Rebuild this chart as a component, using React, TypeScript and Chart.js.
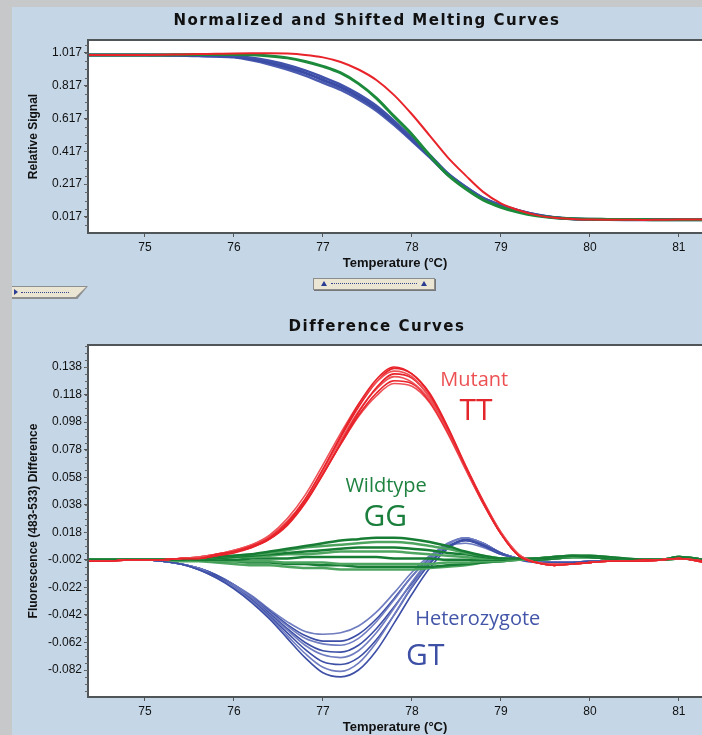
import React, { useEffect, useRef } from "react";
import { Chart, registerables } from "chart.js";
Chart.register(...registerables);

// ---------- shared x grid (°C) ----------
const temps = [
  74.3, 74.6, 74.8, 75.0, 75.2, 75.4, 75.6, 75.8, 76.0, 76.2, 76.4, 76.6,
  76.8, 77.0, 77.2, 77.4, 77.6, 77.8, 78.0, 78.2, 78.4, 78.6, 78.8, 79.0,
  79.2, 79.4, 79.6, 79.8, 80.0, 80.2, 80.4, 80.6, 80.8, 81.0, 81.3,
];
const xTickValues = [75, 76, 77, 78, 79, 80, 81];
const meltTickValues = [0.017, 0.217, 0.417, 0.617, 0.817, 1.017];
const diffTickValues = [
  -0.082, -0.062, -0.042, -0.022, -0.002, 0.018, 0.038, 0.058, 0.078, 0.098, 0.118, 0.138,
];

// ---------- Normalized and Shifted Melting Curves ----------
const meltRed = [
  1.005, 1.005, 1.005, 1.005, 1.006, 1.008, 1.010, 1.012, 1.014, 1.015,
  1.015, 1.013, 1.005, 0.990, 0.962, 0.916, 0.852, 0.760, 0.643, 0.513,
  0.382, 0.272, 0.170, 0.100, 0.058, 0.028, 0.012, 0.005, 0.001, 0.000,
  0.000, -0.001, 0.000, 0.001, 0.001,
];
const meltGreen = [
  1.005, 1.005, 1.005, 1.005, 1.005, 1.006, 1.007, 1.008, 1.008, 1.006,
  0.999, 0.987, 0.965, 0.935, 0.895, 0.830, 0.742, 0.630, 0.520, 0.392,
  0.275, 0.190, 0.121, 0.076, 0.045, 0.024, 0.012, 0.006, 0.003, 0.002,
  0.001, 0.001, 0.000, 0.000, 0.000,
];
const meltBlueUpper = [
  1.005, 1.005, 1.005, 1.005, 1.005, 1.004, 1.003, 1.002, 0.999, 0.988,
  0.969, 0.944, 0.911, 0.869, 0.824, 0.766, 0.695, 0.603, 0.500, 0.396,
  0.285, 0.203, 0.133, 0.089, 0.056, 0.031, 0.014, 0.006, 0.003, 0.001,
  0.000, 0.000, 0.000, 0.000, 0.000,
];
const meltBlueMid = [
  1.005, 1.005, 1.005, 1.005, 1.004, 1.003, 1.001, 0.999, 0.995, 0.980,
  0.958, 0.930, 0.895, 0.852, 0.808, 0.750, 0.680, 0.590, 0.490, 0.388,
  0.280, 0.200, 0.131, 0.088, 0.055, 0.030, 0.014, 0.006, 0.003, 0.001,
  0.000, 0.000, 0.000, 0.000, 0.000,
];
const meltBlueLower = [
  1.005, 1.005, 1.005, 1.004, 1.003, 1.001, 0.998, 0.995, 0.990, 0.972,
  0.947, 0.916, 0.879, 0.835, 0.792, 0.734, 0.665, 0.577, 0.480, 0.380,
  0.275, 0.197, 0.129, 0.087, 0.054, 0.029, 0.013, 0.005, 0.002, 0.001,
  0.000, 0.000, 0.000, 0.000, 0.000,
];

// ---------- Difference Curves : Mutant TT (red) ----------
const diffRed1 = [
  -0.003, -0.003, -0.002, -0.002, -0.002, -0.001, -0.001, 0.002, 0.004, 0.008,
  0.014, 0.025, 0.042, 0.064, 0.088, 0.111, 0.129, 0.138, 0.133, 0.118,
  0.094, 0.066, 0.040, 0.017, 0.001, -0.004, -0.006, -0.005, -0.004, -0.003,
  -0.003, -0.003, -0.002, -0.001, -0.004,
];
const diffRed2 = [
  -0.003, -0.003, -0.002, -0.002, -0.002, -0.001, 0.000, 0.002, 0.005, 0.009,
  0.016, 0.028, 0.045, 0.067, 0.090, 0.111, 0.127, 0.135, 0.131, 0.116,
  0.093, 0.066, 0.040, 0.018, 0.002, -0.004, -0.006, -0.005, -0.004, -0.003,
  -0.003, -0.003, -0.002, -0.001, -0.004,
];
const diffRed3 = [
  -0.003, -0.003, -0.002, -0.002, -0.002, -0.001, -0.001, 0.001, 0.003, 0.007,
  0.013, 0.023, 0.039, 0.060, 0.083, 0.105, 0.123, 0.133, 0.130, 0.116,
  0.093, 0.066, 0.040, 0.017, 0.001, -0.004, -0.006, -0.005, -0.004, -0.003,
  -0.003, -0.002, -0.002, -0.001, -0.003,
];
const diffRed4 = [
  -0.003, -0.003, -0.002, -0.002, -0.002, -0.001, 0.000, 0.002, 0.004, 0.008,
  0.015, 0.026, 0.042, 0.063, 0.085, 0.106, 0.122, 0.131, 0.127, 0.114,
  0.092, 0.065, 0.040, 0.017, 0.001, -0.004, -0.005, -0.005, -0.004, -0.003,
  -0.003, -0.003, -0.002, -0.001, -0.003,
];
const diffRed5 = [
  -0.003, -0.003, -0.002, -0.002, -0.002, -0.001, -0.001, 0.001, 0.004, 0.008,
  0.014, 0.024, 0.040, 0.060, 0.082, 0.103, 0.119, 0.128, 0.126, 0.113,
  0.091, 0.065, 0.039, 0.017, 0.001, -0.004, -0.006, -0.005, -0.004, -0.003,
  -0.003, -0.003, -0.002, -0.001, -0.004,
];
const diffRed6 = [
  -0.003, -0.003, -0.002, -0.002, -0.002, -0.001, 0.000, 0.002, 0.005, 0.009,
  0.015, 0.026, 0.041, 0.061, 0.082, 0.102, 0.117, 0.126, 0.124, 0.112,
  0.090, 0.064, 0.039, 0.017, 0.001, -0.004, -0.005, -0.005, -0.004, -0.003,
  -0.003, -0.003, -0.002, -0.001, -0.003,
];
const diffRed7 = [
  -0.003, -0.003, -0.002, -0.002, -0.002, -0.001, -0.001, 0.001, 0.004, 0.007,
  0.013, 0.024, 0.041, 0.063, 0.087, 0.109, 0.127, 0.137, 0.133, 0.119,
  0.095, 0.067, 0.041, 0.018, 0.002, -0.004, -0.006, -0.005, -0.004, -0.003,
  -0.003, -0.003, -0.002, -0.001, -0.004,
];

// ---------- Difference Curves : Wildtype GG (green) ----------
const diffGreen1 = [
  -0.002, -0.002, -0.002, -0.002, -0.002, -0.002, -0.001, 0.000, 0.001, 0.002,
  0.004, 0.006, 0.008, 0.010, 0.012, 0.013, 0.014, 0.014, 0.013, 0.011,
  0.008, 0.004, 0.001, -0.001, -0.001, -0.001, 0.000, 0.001, 0.001, 0.000,
  -0.001, -0.002, -0.002, 0.000, -0.002,
];
const diffGreen2 = [
  -0.002, -0.002, -0.002, -0.002, -0.002, -0.002, -0.001, 0.000, 0.001, 0.002,
  0.003, 0.005, 0.007, 0.008, 0.009, 0.010, 0.011, 0.011, 0.010, 0.008,
  0.006, 0.003, 0.001, -0.001, -0.002, -0.001, 0.000, 0.001, 0.001, 0.000,
  -0.001, -0.002, -0.002, 0.000, -0.002,
];
const diffGreen3 = [
  -0.002, -0.002, -0.002, -0.002, -0.002, -0.002, -0.002, -0.001, 0.000, 0.001,
  0.002, 0.003, 0.004, 0.005, 0.006, 0.007, 0.007, 0.007, 0.006, 0.005,
  0.003, 0.002, 0.000, -0.001, -0.002, -0.001, 0.000, 0.001, 0.000, -0.001,
  -0.002, -0.002, -0.002, 0.000, -0.002,
];
const diffGreen4 = [
  -0.002, -0.002, -0.002, -0.002, -0.002, -0.002, -0.001, -0.001, 0.000, 0.000,
  0.001, 0.002, 0.002, 0.003, 0.004, 0.004, 0.004, 0.004, 0.003, 0.002,
  0.001, 0.000, -0.001, -0.001, -0.002, -0.001, 0.000, 0.000, 0.000, -0.001,
  -0.002, -0.002, -0.002, 0.000, -0.002,
];
const diffGreen5 = [
  -0.002, -0.002, -0.002, -0.002, -0.002, -0.002, -0.002, -0.002, -0.002, -0.001,
  -0.001, -0.001, 0.000, 0.000, 0.000, 0.000, 0.000, -0.001, -0.001, -0.001,
  -0.002, -0.002, -0.002, -0.002, -0.002, -0.002, -0.001, 0.000, 0.000, -0.001,
  -0.002, -0.002, -0.002, 0.000, -0.002,
];
const diffGreen6 = [
  -0.002, -0.002, -0.002, -0.002, -0.002, -0.002, -0.002, -0.003, -0.003, -0.003,
  -0.003, -0.004, -0.004, -0.004, -0.005, -0.005, -0.005, -0.005, -0.005, -0.005,
  -0.004, -0.004, -0.003, -0.003, -0.002, -0.002, -0.001, 0.000, 0.000, -0.001,
  -0.002, -0.002, -0.002, -0.001, -0.002,
];
const diffGreen7 = [
  -0.002, -0.002, -0.002, -0.002, -0.002, -0.002, -0.002, -0.003, -0.003, -0.004,
  -0.004, -0.005, -0.005, -0.006, -0.006, -0.007, -0.007, -0.007, -0.007, -0.007,
  -0.006, -0.005, -0.004, -0.003, -0.002, -0.002, -0.001, 0.000, 0.000, -0.001,
  -0.002, -0.002, -0.002, -0.001, -0.002,
];
const diffGreen8 = [
  -0.002, -0.002, -0.002, -0.002, -0.002, -0.003, -0.003, -0.004, -0.005, -0.006,
  -0.006, -0.007, -0.008, -0.008, -0.009, -0.009, -0.009, -0.009, -0.009, -0.008,
  -0.007, -0.006, -0.004, -0.003, -0.002, -0.002, -0.001, 0.000, 0.000, -0.001,
  -0.002, -0.002, -0.002, -0.001, -0.002,
];

// ---------- Difference Curves : Heterozygote GT (blue) ----------
const diffBlue1 = [
  -0.002, -0.002, -0.002, -0.002, -0.003, -0.005, -0.009, -0.015, -0.023, -0.033,
  -0.045, -0.059, -0.073, -0.084, -0.087, -0.082, -0.068, -0.048, -0.027, -0.008,
  0.006, 0.012, 0.009, 0.003, -0.002, -0.004, -0.004, -0.004, -0.003, -0.003,
  -0.002, -0.002, -0.002, -0.001, -0.003,
];
const diffBlue2 = [
  -0.002, -0.002, -0.002, -0.002, -0.003, -0.005, -0.009, -0.015, -0.022, -0.032,
  -0.044, -0.057, -0.070, -0.080, -0.083, -0.077, -0.062, -0.042, -0.021, -0.003,
  0.009, 0.014, 0.010, 0.003, -0.001, -0.003, -0.004, -0.004, -0.003, -0.003,
  -0.002, -0.002, -0.002, -0.001, -0.003,
];
const diffBlue3 = [
  -0.002, -0.002, -0.002, -0.002, -0.003, -0.005, -0.009, -0.014, -0.022, -0.031,
  -0.043, -0.055, -0.067, -0.076, -0.078, -0.073, -0.060, -0.042, -0.022, -0.005,
  0.007, 0.013, 0.010, 0.003, -0.001, -0.003, -0.004, -0.004, -0.003, -0.003,
  -0.002, -0.002, -0.002, -0.001, -0.003,
];
const diffBlue4 = [
  -0.002, -0.002, -0.002, -0.002, -0.003, -0.005, -0.008, -0.014, -0.021, -0.030,
  -0.042, -0.053, -0.064, -0.071, -0.073, -0.068, -0.055, -0.037, -0.018, -0.002,
  0.009, 0.014, 0.010, 0.003, -0.001, -0.003, -0.004, -0.004, -0.003, -0.003,
  -0.002, -0.002, -0.002, -0.001, -0.003,
];
const diffBlue5 = [
  -0.002, -0.002, -0.002, -0.002, -0.003, -0.005, -0.008, -0.013, -0.021, -0.030,
  -0.041, -0.052, -0.062, -0.068, -0.069, -0.064, -0.052, -0.036, -0.019, -0.004,
  0.007, 0.012, 0.009, 0.003, -0.001, -0.003, -0.004, -0.004, -0.003, -0.003,
  -0.002, -0.002, -0.002, -0.001, -0.003,
];
const diffBlue6 = [
  -0.002, -0.002, -0.002, -0.002, -0.003, -0.005, -0.008, -0.013, -0.020, -0.029,
  -0.040, -0.050, -0.059, -0.063, -0.064, -0.059, -0.047, -0.031, -0.014, 0.000,
  0.010, 0.014, 0.010, 0.003, -0.001, -0.003, -0.004, -0.004, -0.003, -0.003,
  -0.002, -0.002, -0.002, -0.001, -0.003,
];
const diffBlue7 = [
  -0.002, -0.002, -0.002, -0.002, -0.003, -0.005, -0.008, -0.013, -0.020, -0.029,
  -0.039, -0.049, -0.057, -0.061, -0.061, -0.056, -0.045, -0.030, -0.014, -0.001,
  0.008, 0.012, 0.008, 0.002, -0.001, -0.003, -0.004, -0.004, -0.003, -0.003,
  -0.002, -0.002, -0.002, -0.001, -0.003,
];
const diffBlue8 = [
  -0.002, -0.002, -0.002, -0.002, -0.003, -0.005, -0.008, -0.013, -0.020, -0.028,
  -0.038, -0.047, -0.054, -0.056, -0.055, -0.050, -0.040, -0.026, -0.011, 0.001,
  0.008, 0.010, 0.007, 0.002, -0.001, -0.003, -0.004, -0.004, -0.003, -0.003,
  -0.002, -0.002, -0.002, -0.001, -0.003,
];

const diffRedSeries = [diffRed1, diffRed2, diffRed3, diffRed4, diffRed5, diffRed6, diffRed7];
const diffGreenSeries = [diffGreen1, diffGreen2, diffGreen3, diffGreen4, diffGreen5, diffGreen6, diffGreen7, diffGreen8];
const diffBlueSeries = [diffBlue1, diffBlue2, diffBlue3, diffBlue4, diffBlue5, diffBlue6, diffBlue7, diffBlue8];

// genotype labels drawn inside the difference plot (data coordinates)
const genotypeLabels = [
  { text: "Mutant", t: 78.70, v: 0.1285, size: 20, color: "#ec5052" },
  { text: "TT", t: 78.72, v: 0.1056, size: 30, color: "#e3262c" },
  { text: "Wildtype", t: 77.71, v: 0.0515, size: 20, color: "#1f8240" },
  { text: "GG", t: 77.70, v: 0.0285, size: 30, color: "#1a7e3c" },
  { text: "Heterozygote", t: 78.74, v: -0.0452, size: 20, color: "#4355a8" },
  { text: "GT", t: 78.15, v: -0.0725, size: 30, color: "#3d50a6" },
];

// ---------- helpers ----------
const toPoints = (ys: number[]) => temps.map((t, i) => ({ x: t, y: ys[i] }));

const line = (ys: number[], color: string, width: number) => ({
  data: toPoints(ys),
  borderColor: color,
  borderWidth: width,
  pointRadius: 0,
  fill: false,
  cubicInterpolationMode: "monotone" as const,
});

const SANS = '"Liberation Sans", Arial, sans-serif';

const framePlugin = {
  id: "frame",
  beforeDraw(chart: any) {
    const { ctx, chartArea: a } = chart;
    ctx.save();
    ctx.fillStyle = "#ffffff";
    ctx.fillRect(a.left, a.top, a.right - a.left, a.bottom - a.top);
    ctx.restore();
  },
  afterDraw(chart: any, _args: any, opts: any) {
    const { ctx, chartArea: a } = chart;
    ctx.save();
    ctx.strokeStyle = "#505558";
    ctx.lineWidth = 2;
    ctx.strokeRect(a.left, a.top, a.right - a.left + 4, a.bottom - a.top);
    const ys = chart.scales.y;
    const kMin = Math.ceil((ys.min - opts.base) / opts.step);
    const kMax = Math.floor((ys.max - opts.base) / opts.step);
    ctx.lineWidth = 1;
    ctx.strokeStyle = "#666";
    for (let k = kMin; k <= kMax; k++) {
      const py = Math.round(ys.getPixelForValue(opts.base + k * opts.step)) + 0.5;
      ctx.beginPath();
      ctx.moveTo(a.left - 3, py);
      ctx.lineTo(a.left, py);
      ctx.stroke();
    }
    ctx.font = 'bold 15px "DejaVu Sans", sans-serif';
    (ctx as any).letterSpacing = "1.5px";
    ctx.fillStyle = "#111";
    ctx.textAlign = "center";
    ctx.textBaseline = "middle";
    ctx.fillText(opts.title, opts.titleX, opts.titleY);
    ctx.restore();
  },
};

const labelPlugin = {
  id: "genotypes",
  afterDatasetsDraw(chart: any, _args: any, opts: any) {
    if (!opts || !opts.items) return;
    const { ctx } = chart;
    const xs = chart.scales.x;
    const ys = chart.scales.y;
    ctx.save();
    ctx.textAlign = "center";
    ctx.textBaseline = "middle";
    for (const l of opts.items) {
      ctx.font = `${l.size}px "Open Sans", "Noto Sans", sans-serif`;
      ctx.fillStyle = l.color;
      ctx.fillText(l.text, xs.getPixelForValue(l.t), ys.getPixelForValue(l.v));
    }
    ctx.restore();
  },
};

function makeOptions(c: {
  yMin: number; yMax: number; yTicks: number[]; yTitle: string; topPad: number;
  xHeight: number; xTitlePad: number; title: string; titleX: number; titleY: number;
  minorBase: number; minorStep: number; labels?: any[];
}) {
  return {
    responsive: false,
    animation: false,
    events: [],
    layout: { padding: { top: c.topPad, left: 0, right: 0, bottom: 0 } },
    plugins: {
      legend: { display: false },
      tooltip: { enabled: false },
      title: { display: false },
      frame: { title: c.title, titleX: c.titleX, titleY: c.titleY, base: c.minorBase, step: c.minorStep },
      genotypes: { items: c.labels || [] },
    },
    scales: {
      x: {
        type: "linear",
        min: 74.36,
        max: 81.26,
        afterBuildTicks: (s: any) => { s.ticks = xTickValues.map((v) => ({ value: v })); },
        afterFit: (s: any) => { s.height = c.xHeight; },
        grid: { drawOnChartArea: false, drawTicks: true, tickLength: 4, color: "#555" },
        border: { display: false },
        ticks: {
          font: { family: SANS, size: 12 },
          color: "#111",
          padding: 3,
          maxRotation: 0,
          autoSkip: false,
          callback: (v: any) => String(v),
        },
        title: {
          display: true,
          text: "Temperature (°C)",
          color: "#111",
          font: { family: SANS, size: 13, weight: "bold" },
          padding: { top: 0, bottom: c.xTitlePad },
        },
      },
      y: {
        type: "linear",
        min: c.yMin,
        max: c.yMax,
        afterBuildTicks: (s: any) => { s.ticks = c.yTicks.map((v) => ({ value: v })); },
        afterFit: (s: any) => { s.width = 88; },
        grid: { drawOnChartArea: false, drawTicks: true, tickLength: 4, color: "#555" },
        border: { display: false },
        ticks: {
          font: { family: SANS, size: 12 },
          color: "#111",
          padding: 2,
          autoSkip: false,
          callback: (v: any) => Number(v).toFixed(3),
        },
        title: {
          display: true,
          text: c.yTitle,
          color: "#111",
          font: { family: SANS, size: 12, weight: "bold" },
          padding: { top: 26, bottom: 0 },
        },
      },
    },
  };
}

function ChartCanvas({ config, width, height, style }: any) {
  const ref = useRef<HTMLCanvasElement | null>(null);
  useEffect(() => {
    if (!ref.current) return;
    const chart = new Chart(ref.current, config);
    return () => chart.destroy();
  }, []);
  return <canvas ref={ref} width={width} height={height} style={{ position: "absolute", ...style, width, height }} />;
}

const meltConfig = {
  type: "line",
  data: {
    datasets: [
      line(meltRed, "#e8232a", 2),
      line(meltGreen, "#1b8a3a", 3),
      line(meltBlueUpper, "#4052aa", 2.5),
      line(meltBlueMid, "#3a4ca6", 3),
      line(meltBlueLower, "#4a5bb0", 2.5),
    ],
  },
  options: makeOptions({
    yMin: -0.081, yMax: 1.096, yTicks: meltTickValues, yTitle: "Relative Signal", topPad: 40,
    xHeight: 42, xTitlePad: 4, title: "Normalized and Shifted Melting Curves", titleX: 367, titleY: 21,
    minorBase: 0.017, minorStep: 0.05,
  }),
  plugins: [framePlugin, labelPlugin],
};

const diffConfig = {
  type: "line",
  data: {
    datasets: [
      ...diffRedSeries.map((s, i) => line(s, i % 2 ? "#ee5257" : "#e8232a", 1.6)),
      ...diffGreenSeries.map((s, i) => line(s, i % 2 ? "#4ea560" : "#177d34", 2.5)),
      ...diffBlueSeries.map((s, i) => line(s, i % 2 ? "#6f7cc0" : "#3c4ea6", 1.6)),
    ],
  },
  options: makeOptions({
    yMin: -0.1016, yMax: 0.154, yTicks: diffTickValues, yTitle: "Fluorescence (483-533) Difference",
    topPad: 45, xHeight: 38, xTitlePad: 0, title: "Difference Curves", titleX: 377, titleY: 27,
    minorBase: -0.002, minorStep: 0.005, labels: genotypeLabels,
  }),
  plugins: [framePlugin, labelPlugin],
};

const tri = (dir: "up" | "right", color: string): React.CSSProperties =>
  dir === "up"
    ? { width: 0, height: 0, borderLeft: "3px solid transparent", borderRight: "3px solid transparent", borderBottom: `5px solid ${color}` }
    : { width: 0, height: 0, borderTop: "3px solid transparent", borderBottom: "3px solid transparent", borderLeft: `4px solid ${color}` };

export default function App() {
  return (
    <div style={{ position: "absolute", left: 0, top: 0, width: 702, height: 735, overflow: "hidden", background: "#c5d6e6" }}>
      <div style={{ position: "absolute", left: 0, top: 0, width: 12, height: 735, background: "#c6c8ca" }} />
      <div style={{ position: "absolute", left: 0, top: 0, width: 702, height: 7, background: "#c6c8ca" }} />
      <ChartCanvas config={meltConfig} width={702} height={275} style={{ left: 0, top: 0 }} />
      <div style={{ position: "absolute", left: 313, top: 278, width: 120, height: 10, background: "#ebe6d4", border: "1px solid #8c8c8c", boxShadow: "1px 1px 0 #777" }}>
        <div style={{ position: "absolute", left: 7, top: 2, ...tri("up", "#2b3b92") }} />
        <div style={{ position: "absolute", left: 17, top: 4, width: 86, borderTop: "1px dotted #3a4590" }} />
        <div style={{ position: "absolute", left: 107, top: 2, ...tri("up", "#2b3b92") }} />
      </div>
      <div style={{ position: "absolute", left: 12, top: 286, width: 76, height: 13, background: "#8f8f8f", clipPath: "polygon(0 0, 100% 0, 86% 100%, 0 100%)" }} />
      <div style={{ position: "absolute", left: 12, top: 287, width: 74, height: 10, background: "#ebe6d4", clipPath: "polygon(0 0, 100% 0, 86% 100%, 0 100%)" }}>
        <div style={{ position: "absolute", left: 2, top: 2, ...tri("right", "#2b3b92") }} />
        <div style={{ position: "absolute", left: 9, top: 5, width: 48, borderTop: "1px dotted #3a4590" }} />
      </div>
      <ChartCanvas config={diffConfig} width={702} height={435} style={{ left: 0, top: 300 }} />
    </div>
  );
}
